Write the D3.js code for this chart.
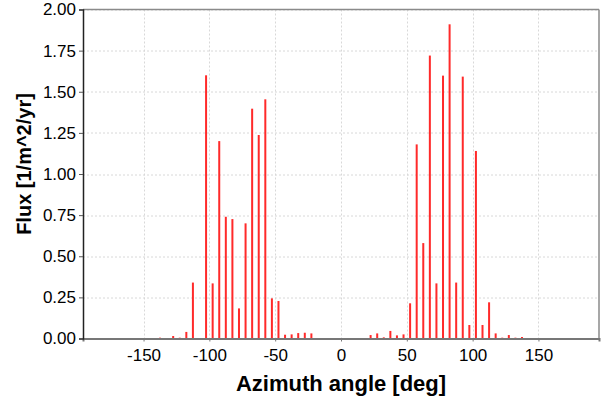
<!DOCTYPE html>
<html lang="en">
<head>
<meta charset="utf-8">
<title>Flux vs azimuth angle</title>
<script src="https://cdn.jsdelivr.net/npm/d3@7/dist/d3.min.js"></script>
<style>
  body { margin: 0; background: #ffffff; }
  text { font-family: "Liberation Sans", Arial, sans-serif; fill: #000; }
</style>
</head>
<body>
<script>
// azimuth bin centres [deg] (empty bins left out)
var angles = [-137.5, -127.5, -122.5, -117.5, -112.5, -102.5, -97.5, -92.5, -87.5, -82.5,
              -77.5, -72.5, -67.5, -62.5, -57.5, -52.5, -47.5, -42.5, -37.5, -32.5,
              -27.5, -22.5,
              22.5, 27.5, 32.5, 37.5, 42.5, 47.5, 52.5, 57.5, 62.5, 67.5,
              72.5, 77.5, 82.5, 87.5, 92.5, 97.5, 102.5, 107.5, 112.5, 117.5,
              122.5, 127.5, 132.5, 137.5];
// flux per bin [1/m^2/yr]
var flux = [0.005, 0.015, 0.005, 0.04, 0.34, 1.60, 0.335, 1.20, 0.74, 0.726,
            0.183, 0.70, 1.397, 1.237, 1.454, 0.244, 0.228, 0.023, 0.025, 0.033,
            0.035, 0.031,
            0.021, 0.031, 0.007, 0.046, 0.019, 0.025, 0.214, 1.18, 0.58, 1.72,
            0.335, 1.598, 1.91, 0.34, 1.592, 0.082, 1.14, 0.082, 0.22, 0.031,
            0.005, 0.021, 0.005, 0.009];
var xTicks = [-150, -100, -50, 0, 50, 100, 150];
var yTicks = [0, 0.25, 0.5, 0.75, 1.0, 1.25, 1.5, 1.75, 2.0];

var w = 603, h = 401;
var margin = {top: 9.5, right: 4, bottom: 62.5, left: 83};
var iw = w - margin.left - margin.right;
var ih = h - margin.top - margin.bottom;

var svg = d3.select("body").append("svg")
    .attr("width", w)
    .attr("height", h);

var x = d3.scaleLinear().domain([-196, 196]).range([0, iw]);
var y = d3.scaleLinear().domain([0, 2]).range([ih, 0]);

var g = svg.append("g")
    .attr("transform", "translate(" + margin.left + "," + margin.top + ")");

// grid
g.selectAll(".gx").data(xTicks).enter().append("line")
    .attr("x1", function(d) { return Math.round(x(d)) + 0.5; })
    .attr("x2", function(d) { return Math.round(x(d)) + 0.5; })
    .attr("y1", 0).attr("y2", ih)
    .attr("stroke", "#d8d8d8").attr("stroke-dasharray", "2,2");
g.selectAll(".gy").data(yTicks).enter().append("line")
    .attr("x1", 0).attr("x2", iw)
    .attr("y1", function(d) { return Math.round(y(d)) + 0.5; })
    .attr("y2", function(d) { return Math.round(y(d)) + 0.5; })
    .attr("stroke", "#d8d8d8").attr("stroke-dasharray", "2,2");

// bars
var data = angles.map(function(a, i) { return {a: a, v: flux[i]}; });
g.selectAll("rect.bar").data(data).enter().append("rect")
    .attr("class", "bar")
    .attr("x", function(d) { return x(d.a) - 1; })
    .attr("width", 2)
    .attr("y", function(d) { return y(d.v); })
    .attr("height", function(d) { return ih - y(d.v); })
    .attr("fill", "#ff2a2a");

// frame (top and right)
g.append("line").attr("x1", 0).attr("x2", iw).attr("y1", 0).attr("y2", 0)
    .attr("stroke", "#8a8a8a").attr("stroke-width", 1.5);
g.append("line").attr("x1", iw).attr("x2", iw).attr("y1", 0).attr("y2", ih)
    .attr("stroke", "#8a8a8a").attr("stroke-width", 1.5);

// axes
var xAxis = g.append("g")
    .attr("transform", "translate(0," + ih + ")")
    .call(d3.axisBottom(x).tickValues(xTicks).tickFormat(function(d) { return String(d); })
          .tickSize(3).tickPadding(7));
xAxis.select(".domain").attr("stroke", "#777").attr("stroke-width", 2);
xAxis.selectAll(".tick line").attr("stroke", "#777");
xAxis.selectAll("text").attr("font-size", "17px")
    .style("font-family", "'Liberation Sans', Arial, sans-serif");

var yAxis = g.append("g")
    .call(d3.axisLeft(y).tickValues(yTicks).tickFormat(function(d) { return d.toFixed(2); })
          .tickSize(4).tickPadding(3));
yAxis.select(".domain").attr("stroke", "#222").attr("stroke-width", 1.5);
yAxis.selectAll(".tick line").attr("stroke", "#555");
yAxis.selectAll("text").attr("font-size", "17px")
    .style("font-family", "'Liberation Sans', Arial, sans-serif");

// titles
svg.append("text")
    .attr("x", margin.left + x(0))
    .attr("y", 391)
    .attr("text-anchor", "middle")
    .attr("font-size", "22px")
    .attr("font-weight", "bold")
    .text("Azimuth angle [deg]");

svg.append("text")
    .attr("transform", "translate(31," + (margin.top + ih / 2 - 10) + ") rotate(-90)")
    .attr("text-anchor", "middle")
    .attr("font-size", "20px")
    .attr("font-weight", "bold")
    .text("Flux [1/m^2/yr]");
</script>
</body>
</html>
